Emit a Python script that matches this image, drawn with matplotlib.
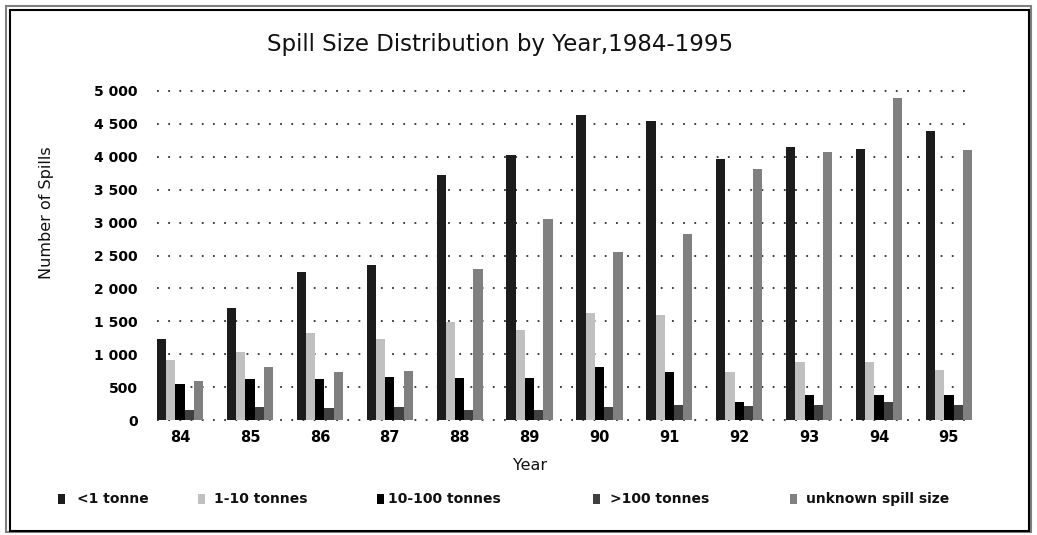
import matplotlib
matplotlib.use("Agg")
import matplotlib.pyplot as plt
import numpy as np
from matplotlib.patches import Rectangle

years = ["84", "85", "86", "87", "88", "89", "90", "91", "92", "93", "94", "95"]
series_names = ["<1 tonne", "1-10 tonnes", "10-100 tonnes", ">100 tonnes", "unknown spill size"]
under_1 = [1230, 1700, 2250, 2360, 3730, 4030, 4630, 4550, 3970, 4150, 4120, 4390]
t1_10 = [910, 1030, 1320, 1230, 1490, 1370, 1630, 1600, 730, 880, 880, 760]
t10_100 = [550, 620, 620, 650, 640, 640, 810, 730, 270, 380, 380, 380]
over_100 = [150, 200, 180, 200, 150, 150, 200, 230, 210, 230, 270, 230]
unknown = [590, 810, 730, 750, 2300, 3050, 2560, 2820, 3820, 4070, 4890, 4100]
y_ticks = [0, 500, 1000, 1500, 2000, 2500, 3000, 3500, 4000, 4500, 5000]
y_tick_labels = ["0", "500", "1 000", "1 500", "2 000", "2 500", "3 000",
                 "3 500", "4 000", "4 500", "5 000"]

colors = ["#1c1c1c", "#c0c0c0", "#000000", "#404040", "#808080"]
series = [under_1, t1_10, t10_100, over_100, unknown]

W, H = 1037, 535
fig = plt.figure(figsize=(W / 100, H / 100), dpi=100)
fig.patch.set_facecolor("white")

# axes placement in pixels: x 157..972, y 89..422
ax = fig.add_axes([157 / W, (H - 422) / H, (972 - 157) / W, (422 - 89) / H])
ax.set_facecolor("white")

x = np.arange(len(years))
bw = 0.132
for i, (vals, c) in enumerate(zip(series, colors)):
    ax.bar(x - 0.33 + bw * (i + 0.5), vals, width=bw, color=c, linewidth=0, zorder=3)

ax.set_xlim(-0.33, 11.33)
ax.set_ylim(-30, 5030)
ax.set_yticks(y_ticks)
ax.set_yticklabels(y_tick_labels, fontsize=10, fontweight="bold")
ax.set_xticks(x)
ax.set_xticklabels(years, fontsize=10.5, fontweight="bold")
ax.tick_params(axis="y", length=0, pad=14)
ax.tick_params(axis="x", length=0, pad=6)
for s in ax.spines.values():
    s.set_visible(False)
ax.yaxis.grid(True, color="#303030", linewidth=1.3, linestyle=(0, (1, 5.2)), zorder=1)
ax.set_axisbelow(True)

fig.text(47 / W, 1 - 213 / H, "Number of Spills", rotation=90, ha="center", va="center",
         fontsize=11.5, color="#111111")
fig.text(530 / W, 1 - 465 / H, "Year", ha="center", va="center", fontsize=11.5, color="#111111")
fig.text(500 / W, 1 - 45 / H, "Spill Size Distribution by Year,1984-1995", ha="center",
         va="center", fontsize=16.5, color="#111111")

# legend row
sq_x = [58, 198, 377, 593, 790]
tx_x = [77, 214, 388, 610, 806]
ly = 499
for sx, tx, c, name in zip(sq_x, tx_x, colors, series_names):
    fig.patches.append(Rectangle((sx / W, 1 - (ly + 5) / H), 7 / W, 10 / H,
                                 transform=fig.transFigure, facecolor=c, edgecolor="none"))
    fig.text(tx / W, 1 - ly / H, name, ha="left", va="center", fontsize=10,
             fontweight="bold", color="#111111")

# double frame around the figure
fig.patches.append(Rectangle((6 / W, 1 - 532 / H), (1031 - 6) / W, (532 - 6) / H,
                             transform=fig.transFigure, fill=False, edgecolor="#808080",
                             linewidth=1.5))
fig.patches.append(Rectangle((10 / W, 1 - 531 / H), (1029 - 10) / W, (531 - 10) / H,
                             transform=fig.transFigure, fill=False, edgecolor="#000000",
                             linewidth=1.5))

fig.savefig("out.png", dpi=100, facecolor="white")
